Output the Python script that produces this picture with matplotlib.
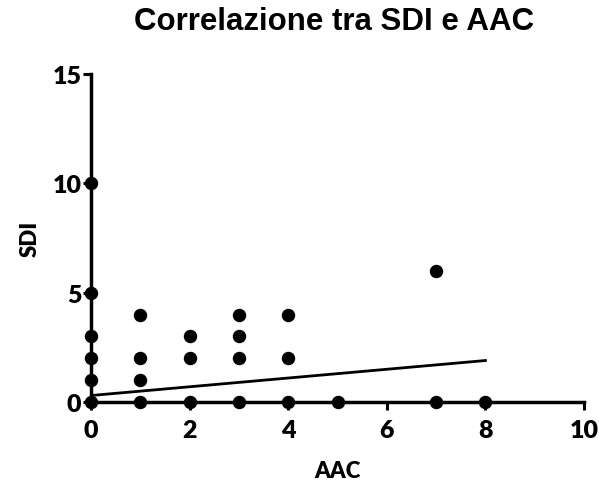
import matplotlib
matplotlib.use('Agg')
import matplotlib.pyplot as plt

# dati (AAC, SDI)
aac = [0, 0, 0, 0, 0, 0, 1, 1, 1, 1, 2, 2, 2, 3, 3, 3, 3, 4, 4, 4, 5, 7, 7, 8]
sdi = [0, 1, 2, 3, 5, 10, 0, 1, 2, 4, 0, 2, 3, 0, 2, 3, 4, 0, 2, 4, 0, 0, 6, 0]

# retta di regressione
fit_x = [0, 8]
fit_y = [0.3, 1.9]

x_ticks = [0, 2, 4, 6, 8, 10]
y_ticks = [0, 5, 10, 15]

fig = plt.figure(figsize=(5.99, 4.81), dpi=100)
ax = fig.add_axes([0.152, 0.162, 0.823, 0.682])

ax.scatter(aac, sdi, s=75, c='black', zorder=3, clip_on=False)
ax.plot(fit_x, fit_y, c='black', lw=2, zorder=2)

ax.set_xlim(0, 10)
ax.set_ylim(0, 15)
ax.set_xticks(x_ticks)
ax.set_yticks(y_ticks)

for side in ['top', 'right']:
    ax.spines[side].set_visible(False)
for side in ['left', 'bottom']:
    ax.spines[side].set_linewidth(2.5)

ax.tick_params(axis='both', direction='out', length=6, width=2.2, pad=1)
ax.tick_params(axis='x', pad=6)
for lab in ax.get_xticklabels() + ax.get_yticklabels():
    lab.set_fontfamily('Lato')
    lab.set_fontweight('heavy')
    lab.set_fontsize(18)

ax.set_xlabel('AAC', fontsize=16, fontweight='heavy', family='Lato', labelpad=14)
ax.set_ylabel('SDI', fontsize=16, fontweight='heavy', family='Lato', labelpad=8)

fig.text(0.557, 0.955, 'Correlazione tra SDI e AAC', ha='center', va='center',
         fontsize=22.5, fontweight='bold', family='Liberation Sans')

fig.savefig('out.png', dpi=100)
